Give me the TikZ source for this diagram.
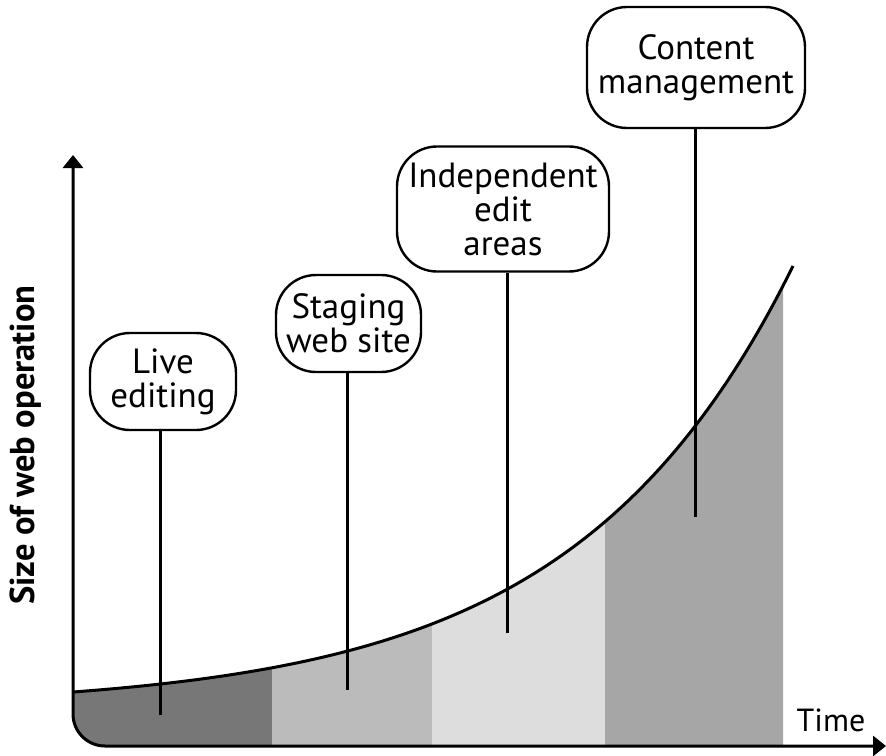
\documentclass[tikz,border=0pt]{standalone}
\usepackage{fontspec}
\setmainfont{PT Sans}
\usetikzlibrary{arrows.meta}
\definecolor{bandA}{HTML}{777777}
\definecolor{bandB}{HTML}{BBBBBB}
\definecolor{bandC}{HTML}{DDDDDD}
\definecolor{bandD}{HTML}{A6A6A6}
\begin{document}
\begin{tikzpicture}[x=1pt,y=-1pt,
  stage/.style={draw=black, line width=2.4pt, fill=white, rounded corners=40pt,
    align=center, inner sep=0pt, font=\fontsize{35}{34}\selectfont},
  leader/.style={line width=3pt},
  axisline/.style={line width=3pt, rounded corners=32pt,
    {Triangle[width=20pt,length=13pt]}-{Triangle[width=20pt,length=13pt]}},
  growth/.style={line width=3pt},
  declare function={h(\t)=746-37.8-16.2*exp(0.004593*(\t-73));}]
\useasboundingbox (0,0) rectangle (886,755);

% shaded bands under the growth curve
\begin{scope}
  \clip[rounded corners=32pt] (73,0) -- (73,746) -- (886,746) -- (886,0) -- cycle;
  \fill[bandA] plot[domain=73:272,samples=40] (\x,{h(\x)}) -- (272,746) -- (73,746) -- cycle;
  \fill[bandB] plot[domain=272:432,samples=40] (\x,{h(\x)}) -- (432,746) -- (272,746) -- cycle;
  \fill[bandC] plot[domain=432:605,samples=40] (\x,{h(\x)}) -- (605,746) -- (432,746) -- cycle;
  \fill[bandD] plot[domain=605:783,samples=40] (\x,{h(\x)}) -- (783,746) -- (605,746) -- cycle;
\end{scope}

% axes
\coordinate (ytop) at (73,155);
\coordinate (origin) at (73,746);
\coordinate (xend) at (886,746);
\draw[axisline] (ytop) -- (origin) -- (xend);

% growth curve
\draw[growth] plot[domain=73:793,samples=120] (\x,{h(\x)});

% stage boxes
\node[stage, minimum width=146pt, minimum height=97pt] (live) at (163,381.5) {Live\\editing};
\node[stage, minimum width=145pt, minimum height=97pt] (staging) at (348.5,323.5) {Staging\\web site};
\node[stage, minimum width=212pt, minimum height=125pt] (indep) at (503,209) {Independent\\edit\\areas};
\node[stage, minimum width=218pt, minimum height=121pt] (cms) at (696,67.5) {Content\\management};

% leader lines
\coordinate (f1) at (160,715);
\coordinate (f2) at (347,690);
\coordinate (f3) at (507,633);
\coordinate (f4) at (695,517);
\draw[leader] (f1) -- (f1 |- live.south);
\draw[leader] (f2) -- (f2 |- staging.south);
\draw[leader] (f3) -- (f3 |- indep.south);
\draw[leader] (f4) -- (f4 |- cms.south);

% axis labels
\node[font=\fontsize{32}{32}\selectfont, anchor=base] (time) at (831,731) {Time};
\node[font=\bfseries\fontsize{34.5}{34}\selectfont, rotate=90, anchor=base] (size) at (34,445) {Size of web operation};
\end{tikzpicture}
\end{document}
